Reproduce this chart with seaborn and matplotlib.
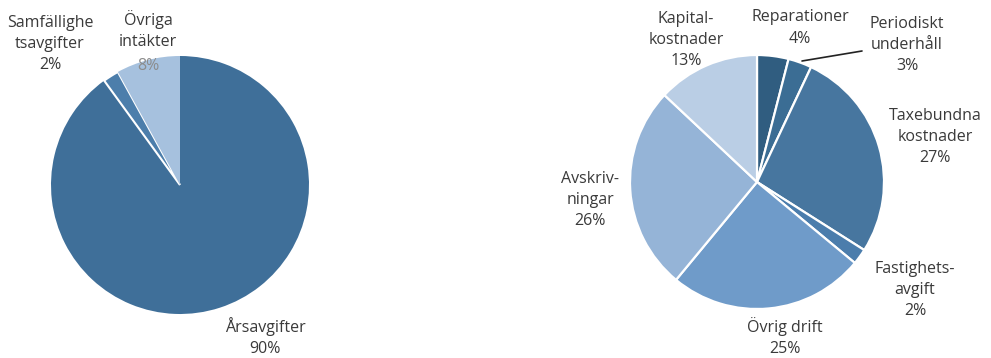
import matplotlib
matplotlib.use("Agg")
import matplotlib.pyplot as plt
import seaborn as sns

sns.set_theme(style="white")
plt.rcParams['font.family'] = ['Open Sans', 'DejaVu Sans']

# Left pie: income
inc_labels = ["Årsavgifter", "Samfällighetsavgifter", "Övriga intäkter"]
inc_values = [90, 2, 8]
inc_colors = ["#3f6f99", "#4c7eab", "#a6c1de"]

# Right pie: costs
cost_labels = ["Reparationer", "Periodiskt underhåll", "Taxebundna kostnader",
               "Fastighetsavgift", "Övrig drift", "Avskrivningar", "Kapitalkostnader"]
cost_values = [4, 3, 27, 2, 25, 26, 13]
cost_colors = ["#305d80", "#3b6d94", "#47769f", "#4b7dac", "#6f9bc9", "#95b4d7", "#bacee5"]

W, H = 991, 358
fig = plt.figure(figsize=(W / 100, H / 100), dpi=100)
txt_color = "#3a3a3a"
fs = 11.5

def make_axes(x0, x1):
    ax = fig.add_axes([x0 / W, 0, (x1 - x0) / W, 1])
    ax.set_axis_off()
    return ax

def fix_limits(ax, cx, cy, r, x0, x1):
    ax.set_aspect("auto")
    ax.set_xlim((x0 - cx) / r, (x1 - cx) / r)
    ax.set_ylim(-(H - cy) / r, cy / r)

def px(cx, cy, r, x, y):
    return (x - cx) / r, (cy - y) / r

# Left
lcx, lcy, lr = 180, 185, 129
axl = make_axes(0, 360)
wl, _ = axl.pie(inc_values, colors=inc_colors, startangle=90, counterclock=False,
                wedgeprops=dict(linewidth=0))
wl[1].set_edgecolor("white")
wl[1].set_linewidth(1.5)
fix_limits(axl, lcx, lcy, lr, 0, 360)

left_text = [("Årsavgifter\n90%", 265, 337, txt_color),
             ("Samfällighe\ntsavgifter\n2%", 50, 44, txt_color),
             ("Övriga\nintäkter", 148, 30, txt_color),
             ("8%", 148, 66, "#8c8c8c")]
for t, x, y, c in left_text:
    axl.text(*px(lcx, lcy, lr, x, y), t, ha="center", va="center",
             fontsize=fs, color=c, linespacing=1.45, clip_on=False)

# Right
rcx, rcy, rr = 757, 182, 127
axr = make_axes(557, 991)
axr.pie(cost_values, colors=cost_colors, startangle=90, counterclock=False,
        wedgeprops=dict(edgecolor="white", linewidth=1.6))
fix_limits(axr, rcx, rcy, rr, 557, 991)

right_text = [("Reparationer\n4%", 800, 28),
              ("Periodiskt\nunderhåll\n3%", 907, 45),
              ("Taxebundna\nkostnader\n27%", 935, 137),
              ("Fastighets-\navgift\n2%", 915, 290),
              ("Övrig drift\n25%", 785, 337),
              ("Avskriv-\nningar\n26%", 590, 200),
              ("Kapital-\nkostnader\n13%", 686, 40)]
for t, x, y in right_text:
    axr.text(*px(rcx, rcy, rr, x, y), t, ha="center", va="center",
             fontsize=fs, color=txt_color, linespacing=1.45, clip_on=False)

# leader line for Periodiskt underhåll
p1 = px(rcx, rcy, rr, 802, 61)
p2 = px(rcx, rcy, rr, 862, 51)
axr.plot([p1[0], p2[0]], [p1[1], p2[1]], color="#222222", linewidth=1.2)

fig.savefig("out.png", dpi=100, facecolor="white")
